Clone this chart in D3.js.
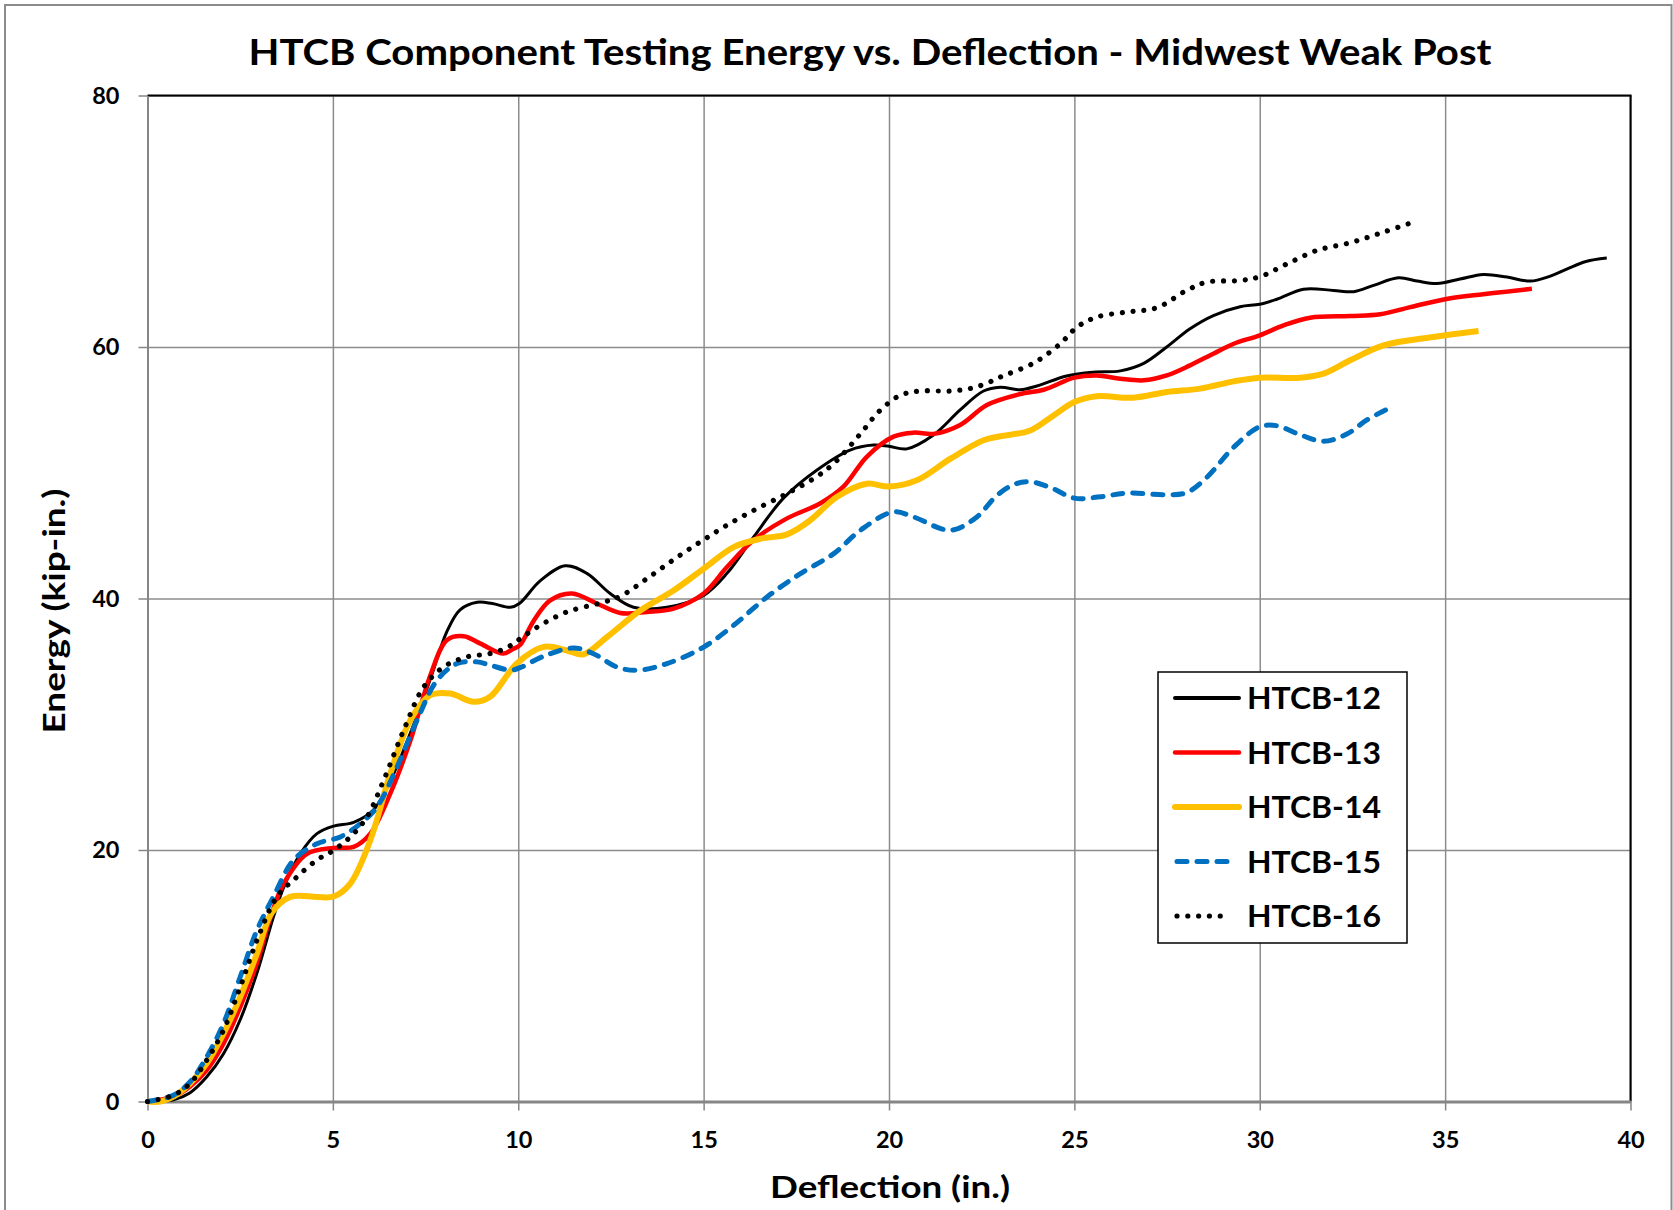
<!DOCTYPE html>
<html>
<head>
<meta charset="utf-8">
<script src="https://cdn.jsdelivr.net/npm/d3@7"></script>
<style>
  html, body { margin: 0; padding: 0; background: #ffffff; }
  svg { display: block; }
  text { font-family: "Lato", "Open Sans", sans-serif; font-weight: bold; fill: #000; }
</style>
</head>
<body>
<svg id="chart" width="1673" height="1210"></svg>
<script>
// ---------------- DATA ----------------
const chartTitle = "HTCB Component Testing Energy vs. Deflection - Midwest Weak Post";
const xTitle = "Deflection (in.)";
const yTitle = "Energy (kip-in.)";
const xTicks = [0, 5, 10, 15, 20, 25, 30, 35, 40];
const yTicks = [0, 20, 40, 60, 80];
const seriesNames = ["HTCB-12", "HTCB-13", "HTCB-14", "HTCB-15", "HTCB-16"];

// [deflection (in.), energy (kip-in.)]
const htcb12 = [[0,0],[0.7,0.13],[1.15,0.7],[1.6,1.96],[2.05,3.8],[2.5,6.5],[2.95,10.2],[3.4,14.7],[3.67,17.0],[4.12,19.7],[4.57,21.3],[5.02,21.9],[5.56,22.2],[6.1,23.2],[6.55,25.5],[7.09,29.3],[7.63,33.6],[8.08,37.4],[8.43,39.1],[8.89,39.7],[9.3,39.6],[9.79,39.3],[10.03,39.6],[10.59,41.4],[11.27,42.6],[11.85,42.0],[12.48,40.4],[13.11,39.3],[14.01,39.3],[15.0,40.25],[15.63,42.0],[16.35,44.9],[17.16,48.0],[18.05,50.2],[18.95,51.8],[19.58,52.2],[20.0,52.1],[20.48,51.9],[21.2,53.0],[21.92,55.0],[22.55,56.5],[23.0,56.8],[23.54,56.6],[23.99,56.9],[24.79,57.7],[25.51,58.0],[26.24,58.1],[26.87,58.7],[27.49,60.0],[28.12,61.45],[28.75,62.5],[29.47,63.2],[30.0,63.4],[30.46,63.8],[31.18,64.6],[31.99,64.5],[32.53,64.4],[33.07,64.9],[33.74,65.5],[34.24,65.25],[34.78,65.05],[35.4,65.4],[36.03,65.77],[36.67,65.56],[37.3,65.24],[37.8,65.6],[38.28,66.2],[38.8,66.8],[39.36,67.07]];

const htcb13 = [[0,0],[0.7,0.38],[1.15,1.2],[1.6,2.5],[2.05,4.6],[2.5,7.5],[2.95,11.0],[3.3,14.5],[3.67,17.3],[4.3,19.7],[5.02,20.17],[5.56,20.25],[6.01,21.3],[6.55,24.5],[7.09,28.7],[7.63,33.9],[8.08,36.7],[8.53,37.0],[8.98,36.41],[9.6,35.62],[9.87,36.0],[10.05,36.3],[10.41,38.2],[10.86,39.85],[11.45,40.4],[12.12,39.6],[12.75,38.85],[13.47,38.93],[14.19,39.2],[15.0,40.4],[15.63,42.5],[16.35,44.65],[17.25,46.37],[18.14,47.56],[18.77,48.89],[19.4,51.27],[20.12,52.87],[20.66,53.19],[21.2,53.09],[21.92,53.8],[22.64,55.39],[23.54,56.26],[24.17,56.6],[25.0,57.56],[25.6,57.74],[26.24,57.48],[26.87,57.35],[27.49,57.74],[28.12,58.54],[28.75,59.47],[29.3,60.26],[30.0,60.93],[30.64,61.72],[31.36,62.33],[32.44,62.46],[33.25,62.6],[34.06,63.17],[35.0,63.8],[36.03,64.2],[37.34,64.63]];

const htcb14 = [[0,0],[0.35,0],[0.7,0.38],[1.15,1.44],[1.6,3.03],[2.05,5.4],[2.5,8.3],[2.95,11.76],[3.35,15.0],[3.85,16.27],[4.57,16.27],[5.02,16.3],[5.47,17.33],[6.01,20.78],[6.55,26.08],[7.09,30.32],[7.63,32.31],[8.17,32.44],[8.8,31.78],[9.24,32.18],[9.96,34.83],[10.68,36.15],[11.31,35.87],[11.76,35.56],[12.39,36.93],[13.29,39.05],[14.19,40.64],[15.0,42.37],[15.81,44.09],[16.53,44.75],[17.25,45.1],[17.87,46.21],[18.59,48.07],[19.4,49.13],[20.0,48.9],[20.75,49.4],[21.66,51.12],[22.55,52.58],[23.0,52.9],[23.81,53.36],[24.44,54.56],[25.0,55.62],[25.6,56.08],[26.59,55.97],[27.49,56.42],[28.39,56.69],[29.3,57.27],[30.0,57.56],[31.09,57.56],[31.72,57.88],[32.44,58.94],[33.34,60.13],[34.69,60.8],[35.9,61.27]];

const htcb15 = [[0,0],[0.7,0.5],[1.15,1.57],[1.6,3.56],[2.05,6.2],[2.5,9.9],[2.95,13.6],[3.4,16.3],[3.94,19.2],[4.57,20.5],[5.2,21.04],[5.74,22.1],[6.19,23.42],[6.73,26.6],[7.27,30.32],[7.81,33.5],[8.35,34.83],[8.89,34.96],[9.24,34.7],[9.8,34.3],[10.05,34.5],[10.68,35.4],[11.49,36.07],[12.03,35.61],[12.66,34.55],[13.2,34.29],[14.01,34.82],[15.0,36.14],[15.81,37.87],[16.71,40.12],[17.61,41.98],[18.51,43.57],[19.23,45.43],[20.12,46.89],[20.66,46.49],[21.66,45.43],[22.37,46.49],[22.91,48.2],[23.4,49.1],[23.81,49.28],[24.35,48.83],[25.0,47.98],[25.7,48.09],[26.42,48.38],[27.49,48.25],[28.03,48.43],[28.57,49.63],[29.29,52.01],[30.0,53.66],[30.46,53.74],[31.09,53.02],[31.72,52.5],[32.35,53.08],[32.89,54.2],[33.47,55.1]];

const htcb16 = [[0,0],[0.7,0.5],[1.15,1.44],[1.6,3.3],[2.05,5.67],[2.5,9.1],[2.95,12.8],[3.49,16.27],[4.03,17.86],[4.57,19.2],[5.02,19.98],[5.47,21.04],[5.92,22.63],[6.37,25.55],[6.91,29.53],[7.45,32.97],[7.99,34.56],[8.62,35.36],[9.24,35.62],[9.7,36.1],[10.05,36.8],[10.59,37.86],[11.31,38.93],[12.21,39.64],[12.75,40.17],[13.47,41.58],[14.19,43.09],[14.91,44.5],[15.63,45.83],[16.44,47.15],[17.25,48.35],[17.97,49.54],[18.51,50.73],[19.23,53.1],[19.76,54.96],[20.3,56.15],[20.84,56.5],[21.66,56.5],[22.28,56.76],[22.82,57.35],[23.0,57.61],[23.9,58.72],[24.62,60.26],[25.07,61.58],[25.6,62.38],[26.42,62.78],[27.22,63.12],[28.03,64.5],[28.57,65.16],[29.47,65.29],[30.02,65.61],[30.73,66.6],[31.54,67.68],[32.44,68.29],[33.25,69.05],[34.08,69.87]];

const seriesData = [htcb12, htcb13, htcb14, htcb15, htcb16];

// ---------------- STYLES ----------------
const seriesStyles = [
  { color: "#000000", width: 3,   dash: null,        cap: "butt"  },
  { color: "#FF0000", width: 4.5, dash: null,        cap: "butt"  },
  { color: "#FFC000", width: 6,   dash: null,        cap: "butt"  },
  { color: "#0070C0", width: 5,   dash: "10,10",     cap: "round" },
  { color: "#000000", width: 5.2, dash: "0.01,10.8", cap: "round" }
];

const svg = d3.select("#chart");
const m = { left: 147.5, right: 1630.5, top: 95.5, bottom: 1101.5 };

// outer border
svg.append("rect").attr("x", 5).attr("y", 5).attr("width", 1666.5).attr("height", 1230)
  .attr("fill", "#fff").attr("stroke", "#8c8c8c").attr("stroke-width", 2);

const x = d3.scaleLinear().domain([0, 40]).range([m.left, m.right]);
const y = d3.scaleLinear().domain([0, 80]).range([m.bottom, m.top]);

// gridlines
const gx = svg.append("g").attr("transform", `translate(0,${m.bottom})`)
  .call(d3.axisBottom(x).tickValues(xTicks).tickSize(-(m.bottom - m.top)).tickFormat(""));
gx.select(".domain").remove();
gx.selectAll(".tick line").attr("stroke", "#8c8c8c").attr("stroke-width", 1.5);

const gy = svg.append("g").attr("transform", `translate(${m.left},0)`)
  .call(d3.axisLeft(y).tickValues(yTicks).tickSize(-(m.right - m.left)).tickFormat(""));
gy.select(".domain").remove();
gy.selectAll(".tick line").attr("stroke", "#8c8c8c").attr("stroke-width", 1.5);

// plot frame: top & right black
svg.append("line").attr("x1", m.left).attr("x2", m.right + 1).attr("y1", m.top).attr("y2", m.top)
  .attr("stroke", "#000").attr("stroke-width", 2);
svg.append("line").attr("x1", m.right).attr("x2", m.right).attr("y1", m.top).attr("y2", m.bottom)
  .attr("stroke", "#000").attr("stroke-width", 2);

// axes
const axX = svg.append("g").attr("transform", `translate(0,${m.bottom})`)
  .call(d3.axisBottom(x).tickValues(xTicks).tickSize(9).tickPadding(21).tickSizeOuter(0));
axX.select(".domain").attr("stroke", "#868686").attr("stroke-width", 3);
axX.selectAll(".tick line").attr("stroke", "#868686").attr("stroke-width", 1.5);
axX.selectAll(".tick text").attr("font-size", 23.5).attr("font-family", "Lato, sans-serif")
  .attr("font-weight", "bold").attr("fill", "#000");

const axY = svg.append("g").attr("transform", `translate(${m.left},0)`)
  .call(d3.axisLeft(y).tickValues(yTicks).tickSize(9).tickPadding(19).tickSizeOuter(0));
axY.select(".domain").attr("stroke", "#868686").attr("stroke-width", 2);
axY.selectAll(".tick line").attr("stroke", "#868686").attr("stroke-width", 1.5);
axY.selectAll(".tick text").attr("font-size", 23.5).attr("font-family", "Lato, sans-serif")
  .attr("font-weight", "bold").attr("fill", "#000");

// series
const line = d3.line().x(d => x(d[0])).y(d => y(d[1])).curve(d3.curveCatmullRom.alpha(0.5));
seriesData.forEach((data, i) => {
  const s = seriesStyles[i];
  svg.append("path").datum(data)
    .attr("d", line)
    .attr("fill", "none")
    .attr("stroke", s.color)
    .attr("stroke-width", s.width)
    .attr("stroke-linecap", s.cap)
    .attr("stroke-linejoin", "round")
    .attr("stroke-dasharray", s.dash);
});

// titles
svg.append("text").attr("x", 870).attr("y", 65).attr("text-anchor", "middle")
  .attr("font-size", 36.5).attr("textLength", 1243).attr("lengthAdjust", "spacingAndGlyphs")
  .text(chartTitle);
svg.append("text").attr("x", 890).attr("y", 1198).attr("text-anchor", "middle")
  .attr("font-size", 30).attr("textLength", 240).attr("lengthAdjust", "spacingAndGlyphs")
  .text(xTitle);
svg.append("text").attr("transform", "translate(65,611) rotate(-90)").attr("text-anchor", "middle")
  .attr("font-size", 30).attr("textLength", 245).attr("lengthAdjust", "spacingAndGlyphs")
  .text(yTitle);

// legend
const lg = svg.append("g");
lg.append("rect").attr("x", 1158).attr("y", 672).attr("width", 249).attr("height", 271)
  .attr("fill", "#fff").attr("stroke", "#000").attr("stroke-width", 1.5);
const legendY = d3.scalePoint().domain(seriesNames).range([698, 916]);
seriesNames.forEach((name, i) => {
  const s = seriesStyles[i];
  const cy = legendY(name);
  const isDash = s.dash != null;
  lg.append("line")
    .attr("x1", isDash ? 1177 : 1175).attr("x2", isDash ? 1231 : 1239)
    .attr("y1", cy).attr("y2", cy)
    .attr("stroke", s.color).attr("stroke-width", i === 0 ? 4 : s.width)
    .attr("stroke-linecap", "round")
    .attr("stroke-dasharray", s.dash);
  lg.append("text").attr("x", 1247).attr("y", cy + 11)
    .attr("font-size", 31).attr("textLength", 134).attr("lengthAdjust", "spacingAndGlyphs")
    .text(name);
});
</script>
</body>
</html>
